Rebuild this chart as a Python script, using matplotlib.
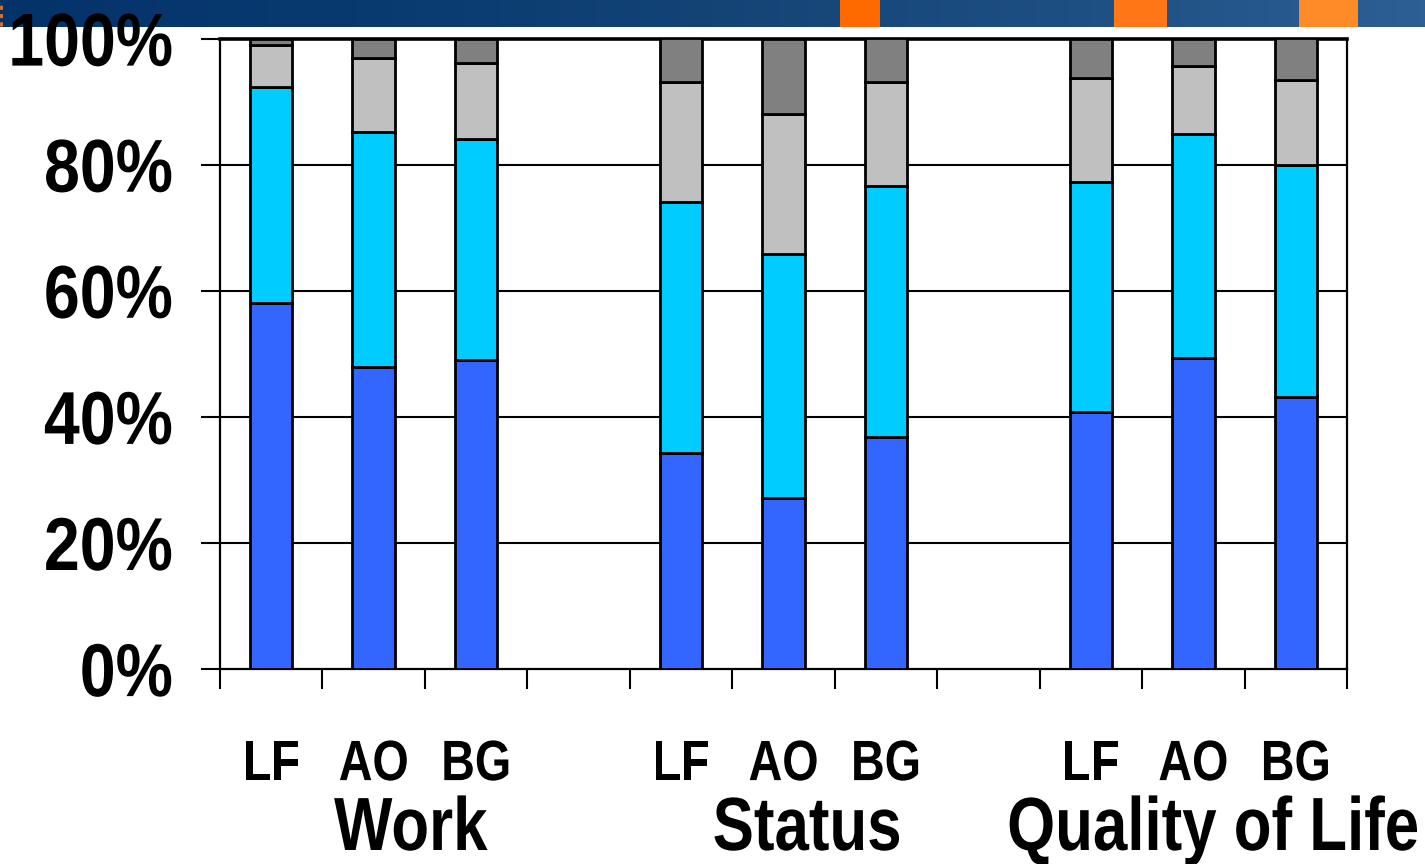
import matplotlib
matplotlib.use("Agg")
import matplotlib.pyplot as plt
import numpy as np
from matplotlib.patches import Rectangle
from matplotlib.colors import LinearSegmentedColormap
from matplotlib.patheffects import AbstractPathEffect
from matplotlib.transforms import Affine2D
import matplotlib.transforms as mtransforms

# ---- data -------------------------------------------------------------
groups = ["Work", "Status", "Quality of Life"]
sources = ["LF", "AO", "BG"]
# share of each answer level per bar, bottom to top (percent)
level1 = [58.1, 47.9, 49.0, 34.2, 27.1, 36.8, 40.8, 49.4, 43.1]
level2 = [34.2, 37.3, 35.1, 39.9, 38.8, 39.8, 36.5, 35.4, 36.9]
level3 = [6.6, 11.7, 12.0, 19.0, 22.1, 16.5, 16.4, 10.9, 13.4]
level4 = [1.1, 3.1, 3.9, 6.9, 12.0, 6.9, 6.3, 4.3, 6.6]
pct_ticks = [0, 20, 40, 60, 80, 100]
pct_labels = ["0%", "20%", "40%", "60%", "80%", "100%"]

level_colors = ["#3366FF", "#00CCFF", "#C0C0C0", "#808080"]


class Tall(AbstractPathEffect):
    """Draw text taller than wide (a condensed look), stretching glyphs
    vertically about the baseline or about the ink centre."""

    def __init__(self, sy=1.2, anchor="baseline"):
        super().__init__()
        self.sy = sy
        self.anchor = anchor

    def draw_path(self, renderer, gc, tpath, affine, rgbFace=None):
        if self.anchor == "center":
            ext = tpath.get_extents(affine)
            cy = 0.5 * (ext.y0 + ext.y1)
        else:
            cy = affine.transform((0, 0))[1]
        stretch = Affine2D().translate(0, -cy).scale(1, self.sy).translate(0, cy)
        renderer.draw_path(gc, tpath, affine + stretch, rgbFace)


plt.rcParams["font.family"] = ["Liberation Sans", "DejaVu Sans"]
plt.rcParams["font.weight"] = "bold"

W, H = 1425, 864
fig = plt.figure(figsize=(W / 100, H / 100), dpi=100)
fig.patch.set_facecolor("white")

# ---- header band ------------------------------------------------------
band = fig.add_axes([0, 1 - 27 / H, 1, 27 / H])
band.set_xlim(0, W)
band.set_ylim(0, 1)
band.axis("off")
band_cmap = LinearSegmentedColormap.from_list(
    "band", ["#04336A", "#083A70", "#144476", "#1E4F82", "#2D5F95"])
band.imshow(np.linspace(0, 1, 256)[None, :], cmap=band_cmap, aspect="auto",
            extent=[0, W, 0, 1])
for x0, x1, c in [(840, 880, "#FF6A00"), (1114, 1167, "#FF7716"), (1299, 1358, "#FF8A28")]:
    band.add_patch(Rectangle((x0, 0), x1 - x0, 1, color=c, lw=0))
band.plot([1.5, 1.5], [0.05, 0.95], color="#F07020", lw=2, ls=(0, (1.5, 1.5)))

# ---- main chart -------------------------------------------------------
ax = fig.add_axes([220 / W, 1 - 669 / H, (1347 - 220) / W, (669 - 38.5) / H])
ax.set_zorder(2)

slots = np.array([0, 1, 2, 4, 5, 6, 8, 9, 10])
bar_w = 0.415
bottom = np.zeros(len(slots))
for vals, col in zip([level1, level2, level3, level4], level_colors):
    v = np.array(vals)
    ax.bar(slots, v, bar_w, bottom=bottom, color=col, edgecolor="black",
           linewidth=2.0, zorder=3)
    bottom += v

ax.set_xlim(-0.5, 10.5)
ax.set_ylim(0, 100)

for y in pct_ticks[1:-1]:
    ax.axhline(y, color="black", lw=1.5, zorder=1)

for side in ["left", "right", "bottom"]:
    ax.spines[side].set_linewidth(1.6)
    ax.spines[side].set_color("black")
ax.spines["top"].set_linewidth(2.6)

# y axis
ax.set_yticks(pct_ticks)
ax.set_yticklabels(pct_labels)
ax.tick_params(axis="y", direction="out", length=14, width=1.5, pad=20,
               labelsize=46.4, right=False)

# x axis: boundary ticks, labels under each bar
ax.set_xticks(np.arange(-0.5, 11, 1.0))
ax.set_xticklabels([])
ax.tick_params(axis="x", which="major", direction="out", length=14.5, width=1.5)
ax.set_xticks(slots, minor=True)
ax.set_xticklabels(sources * len(groups), minor=True)
ax.tick_params(axis="x", which="minor", length=0, pad=80, labelsize=33.6)
for lab in ax.get_xticklabels(minor=True):
    lab.set_verticalalignment("baseline")
    lab.set_path_effects([Tall(1 / 0.82, "baseline")])
for tick in ax.yaxis.get_major_ticks():
    tick.label1.set_path_effects([Tall(1 / 0.86, "center")])

# group names
trans = mtransforms.blended_transform_factory(ax.transData, fig.transFigure)
for name, xc in zip(groups, [1.36, 5.23, 9.19]):
    ax.text(xc, 1 - 850 / H, name, transform=trans, ha="center", va="baseline",
            fontsize=44.5, fontweight="bold", clip_on=False,
            path_effects=[Tall(1 / 0.82, "baseline")])

fig.savefig("out.png", dpi=100, facecolor="white")
